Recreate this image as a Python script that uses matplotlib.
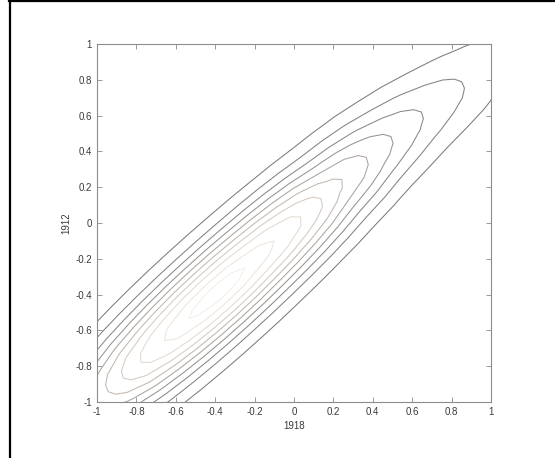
import numpy as np
import matplotlib
matplotlib.use('Agg')
import matplotlib.pyplot as plt
from matplotlib.lines import Line2D

# height of the surface along the main diagonal (x = y = u)
diag_pos = [-1.0, -0.9, -0.8, -0.7, -0.6, -0.5, -0.4, -0.3, -0.2, -0.1, 0.0,
            0.1, 0.2, 0.3, 0.4, 0.5, 0.6, 0.7, 0.8, 0.9, 1.0]
ridge_height = [0.52, 0.66, 0.78, 0.87, 0.94, 0.985, 1.0, 0.99, 0.95, 0.90, 0.83,
                0.74, 0.63, 0.56, 0.47, 0.39, 0.32, 0.26, 0.21, 0.16, 0.125]
# ridge centre offset across the diagonal (y - x)
ridge_shift = [0.0, 0.0, 0.0, 0.0, 0.0, 0.0, 0.0, 0.0, 0.0, 0.0, 0.0,
               0.0, 0.0, 0.0, 0.0, -0.01, -0.02, -0.04, -0.06, -0.075, -0.09]
# relative profile across the ridge (half, mirrored)
cross_half_pos = [0.0, 0.05, 0.1, 0.15, 0.2, 0.25, 0.3, 0.35, 0.4, 0.45, 0.5,
                  0.55, 0.6, 0.7, 0.8, 2.0]
cross_half_val = [1.0, 0.974, 0.902, 0.793, 0.662, 0.524, 0.395, 0.282, 0.191,
                  0.123, 0.076, 0.044, 0.024, 0.006, 0.001, 0.0]

levels = [0.1, 0.2, 0.3, 0.4, 0.5, 0.6, 0.7, 0.8, 0.9, 0.97]
line_colors = ['#7c7c7c', '#828282', '#8a8887', '#979390', '#aba49f', '#c1b8b1',
               '#d4cac2', '#e3dad1', '#ede5dd', '#f5efe8']

ticks = [-1, -0.8, -0.6, -0.4, -0.2, 0, 0.2, 0.4, 0.6, 0.8, 1]
tick_labels = ['-1', '-0.8', '-0.6', '-0.4', '-0.2', '0', '0.2', '0.4', '0.6', '0.8', '1']

cross_pos = [-p for p in cross_half_pos[:0:-1]] + cross_half_pos
cross_val = cross_half_val[:0:-1] + cross_half_val

U, D = np.meshgrid(diag_pos, cross_pos, indexing='ij')
S = np.array(ridge_shift)[:, None]
X = U - (D + S) / 2
Y = U + (D + S) / 2
Z = np.outer(ridge_height, cross_val)

plt.rcParams['font.family'] = ['Liberation Sans', 'DejaVu Sans']

fig = plt.figure(figsize=(5.55, 4.58), dpi=100)
ax = fig.add_axes([0.1748, 0.1223, 0.7099, 0.7816])
ax.contour(X, Y, Z, levels=levels, colors=line_colors, linewidths=0.75)
ax.set_xlim(-1, 1)
ax.set_ylim(-1, 1)
ax.set_xticks(ticks)
ax.set_xticklabels(tick_labels)
ax.set_yticks(ticks)
ax.set_yticklabels(tick_labels)
ax.tick_params(direction='in', length=3.5, width=0.6, colors='#8c8c8c',
               labelcolor='#3a3a3a', labelsize=7, top=True, right=True)
for sp in ax.spines.values():
    sp.set_color('#8c8c8c')
    sp.set_linewidth(0.8)
ax.set_xlabel('1918', fontsize=7, color='#3a3a3a', labelpad=3)
ax.set_ylabel('1912', fontsize=7, color='#3a3a3a', labelpad=3)

# black frame edges (left and top only)
fig.add_artist(Line2D([9.5 / 555, 9.5 / 555], [0, 1], transform=fig.transFigure,
                      color='black', lw=1.6))
fig.add_artist(Line2D([9 / 555, 1], [1 - 1.2 / 458, 1 - 1.2 / 458],
                      transform=fig.transFigure, color='black', lw=1.6))

fig.savefig('out.png', dpi=100)
